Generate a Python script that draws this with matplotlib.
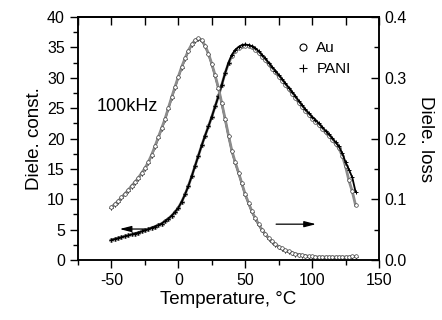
import matplotlib
matplotlib.use("Agg")
import matplotlib.pyplot as plt
from matplotlib.lines import Line2D
from matplotlib.ticker import MultipleLocator

plt.rcParams['font.family'] = ['Liberation Sans', 'DejaVu Sans']
plt.rcParams['axes.unicode_minus'] = False

# temperature grid of the measured points (degC)
temp = [-50, -47.5, -45, -42.5, -40, -37.5, -35, -32.5, -30, -27.5,
        -25, -22.5, -20, -17.5, -15, -12.5, -10, -7.5, -5, -2.5,
        0, 2.5, 5, 7.5, 10, 12.5, 15, 17.5, 20, 22.5,
        25, 27.5, 30, 32.5, 35, 37.5, 40, 42.5, 45, 47.5,
        50, 52.5, 55, 57.5, 60, 62.5, 65, 67.5, 70, 72.5,
        75, 77.5, 80, 82.5, 85, 87.5, 90, 92.5, 95, 97.5,
        100, 102.5, 105, 107.5, 110, 112.5, 115, 117.5, 120, 122.5,
        125, 127.5, 130, 132.5]

# dielectric constant (left axis)
const_au = [3.3, 3.45, 3.6, 3.75, 3.9, 4.05, 4.2, 4.35, 4.5, 4.7,
            4.9, 5.1, 5.3, 5.5, 5.75, 6.0, 6.4, 6.8, 7.3, 7.9,
            8.6, 9.6, 10.8, 12.2, 13.8, 15.5, 17.2, 18.9, 20.5, 22.0,
            23.6, 25.3, 27.0, 28.9, 30.8, 32.4, 33.6, 34.4, 34.9, 35.2,
            35.3, 35.2, 35.0, 34.6, 34.1, 33.5, 32.9, 32.2, 31.5, 30.9,
            30.2, 29.5, 28.8, 28.1, 27.4, 26.7, 25.9, 25.2, 24.5, 23.9,
            23.3, 22.8, 22.2, 21.6, 21.0, 20.4, 19.8, 19.1, 18.4, 17.2,
            15.4, 13.1, 11.3, 9.0]
const_pani = [3.3, 3.45, 3.6, 3.75, 3.9, 4.05, 4.2, 4.35, 4.5, 4.7,
              4.9, 5.1, 5.3, 5.5, 5.75, 6.0, 6.4, 6.8, 7.3, 7.9,
              8.6, 9.6, 10.8, 12.2, 13.8, 15.5, 17.2, 18.9, 20.5, 22.0,
              23.6, 25.3, 27.0, 28.9, 30.8, 32.5, 33.8, 34.6, 35.1, 35.4,
              35.5, 35.4, 35.2, 34.9, 34.4, 33.8, 33.2, 32.5, 31.8, 31.2,
              30.5, 29.8, 29.1, 28.4, 27.7, 27.0, 26.2, 25.5, 24.8, 24.2,
              23.6, 23.1, 22.5, 21.9, 21.3, 20.7, 20.1, 19.4, 18.7, 17.6,
              16.1, 14.9, 13.6, 11.2]

# dielectric loss (right axis)
loss_au = [0.087, 0.092, 0.097, 0.103, 0.109, 0.115, 0.122, 0.128, 0.135, 0.143,
           0.151, 0.161, 0.173, 0.187, 0.202, 0.217, 0.232, 0.250, 0.268, 0.285,
           0.302, 0.318, 0.332, 0.345, 0.355, 0.362, 0.365, 0.362, 0.353, 0.340,
           0.323, 0.304, 0.283, 0.258, 0.232, 0.205, 0.180, 0.161, 0.144, 0.126,
           0.108, 0.094, 0.080, 0.069, 0.059, 0.050, 0.043, 0.036, 0.031, 0.026,
           0.022, 0.019, 0.016, 0.014, 0.012, 0.010, 0.009, 0.008, 0.007, 0.006,
           0.006, 0.005, 0.005, 0.005, 0.005, 0.005, 0.005, 0.005, 0.005, 0.005,
           0.005, 0.005, 0.006, 0.006]
loss_pani = [0.086, 0.091, 0.096, 0.102, 0.108, 0.114, 0.121, 0.127, 0.134, 0.142,
             0.150, 0.160, 0.172, 0.186, 0.201, 0.216, 0.231, 0.249, 0.267, 0.284,
             0.301, 0.317, 0.331, 0.344, 0.354, 0.361, 0.364, 0.361, 0.352, 0.339,
             0.322, 0.303, 0.282, 0.257, 0.231, 0.204, 0.179, 0.160, 0.143, 0.125,
             0.107, 0.093, 0.079, 0.068, 0.058, 0.049, 0.042, 0.035, 0.030, 0.025,
             0.021, 0.018, 0.015, 0.013, 0.011, 0.009, 0.008, 0.007, 0.006, 0.005,
             0.005, 0.004, 0.004, 0.004, 0.004, 0.004, 0.004, 0.004, 0.004, 0.004,
             0.004, 0.004, 0.005, 0.005]

fig = plt.figure(figsize=(4.42, 3.2), dpi=100)
ax = fig.add_axes([0.1765, 0.1875, 0.681, 0.759])
ax2 = ax.twinx()

circ = dict(marker='o', linestyle='-', linewidth=2.0, color='0.55', markersize=2.6,
            markerfacecolor='white', markeredgecolor='0.25', markeredgewidth=0.5)
plus = dict(marker='+', linestyle='-', linewidth=1.3, color='black', markersize=3.0,
            markeredgewidth=0.7)

ax.plot(temp, const_au, **circ)
ax.plot(temp, const_pani, **plus)
ax2.plot(temp, loss_pani, **plus)
ax2.plot(temp, loss_au, **circ)

ax.set_xlim(-75, 150)
ax.set_ylim(0, 40)
ax2.set_ylim(0, 0.4)

ax.xaxis.set_major_locator(MultipleLocator(50))
ax.xaxis.set_minor_locator(MultipleLocator(25))
ax.yaxis.set_major_locator(MultipleLocator(5))
ax.yaxis.set_minor_locator(MultipleLocator(2.5))
ax2.yaxis.set_major_locator(MultipleLocator(0.1))
ax2.yaxis.set_minor_locator(MultipleLocator(0.05))
ax2.set_yticks([0.0, 0.1, 0.2, 0.3, 0.4], ['0.0', '0.1', '0.2', '0.3', '0.4'])

ax.tick_params(which='major', direction='out', length=6, width=1, labelsize=11.5)
ax.tick_params(which='minor', direction='out', length=3.5, width=1)
ax2.tick_params(which='major', direction='in', length=5.5, width=1, labelsize=11.5)
ax2.tick_params(which='minor', direction='in', length=3.5, width=1)

top = ax.secondary_xaxis('top')
top.xaxis.set_major_locator(MultipleLocator(50))
top.xaxis.set_minor_locator(MultipleLocator(25))
top.tick_params(which='both', direction='in', length=5.5, width=1, labeltop=False)

for a in (ax, ax2):
    for s in a.spines.values():
        s.set_linewidth(1.1)
top.spines['top'].set_linewidth(1.1)

ax.set_xlabel('Temperature, °C', fontsize=13.5, labelpad=2)
ax.set_ylabel('Diele. const.', fontsize=13.5, labelpad=3)
ax2.set_ylabel('Diele. loss', fontsize=13.5, rotation=270, labelpad=20)

ax.text(-61, 25.3, '100kHz', fontsize=13, va='center')

arrow = dict(arrowstyle='-|>,head_length=0.7,head_width=0.18', color='black', lw=0.9)
ax.annotate('', xy=(-46, 5.1), xytext=(-23, 5.1), arrowprops=arrow)
ax.annotate('', xy=(105, 5.9), xytext=(71, 5.9), arrowprops=arrow)

handles = [Line2D([], [], marker='o', linestyle='none', markersize=5,
                  markerfacecolor='white', markeredgecolor='black', markeredgewidth=0.8),
           Line2D([], [], marker='+', linestyle='none', markersize=6,
                  color='black', markeredgewidth=0.8)]
ax.legend(handles, ['Au', 'PANI'], loc='upper left', bbox_to_anchor=(0.69, 0.945),
          frameon=False, fontsize=11, handlelength=0.8, handletextpad=0.5,
          labelspacing=0.45, borderpad=0.2)

fig.savefig('out.png', dpi=100)
